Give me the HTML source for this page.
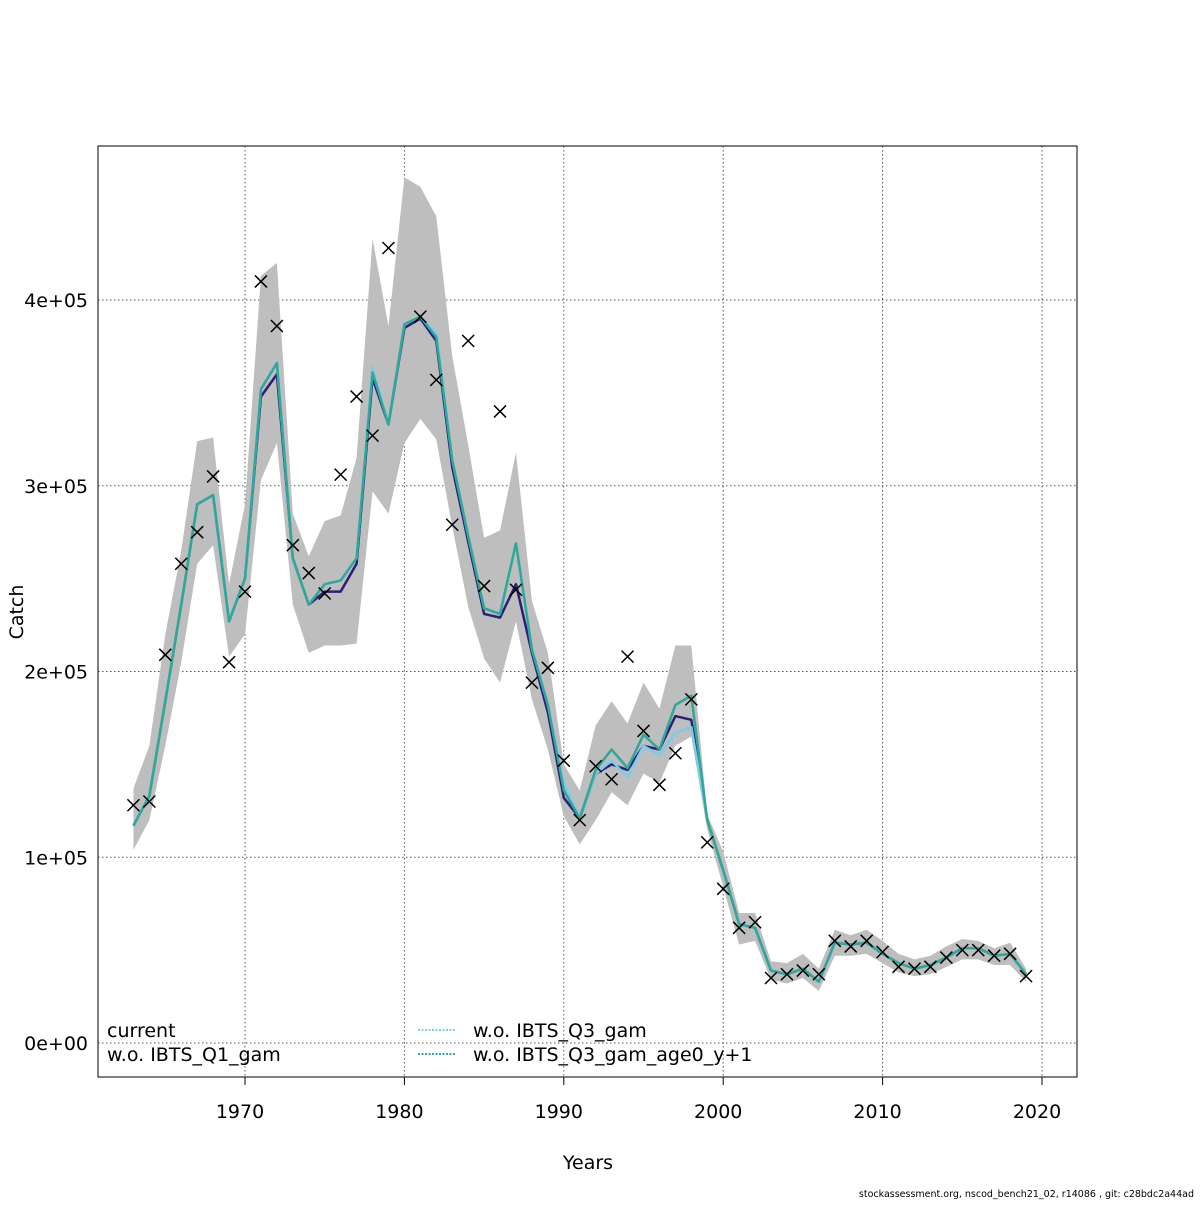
<!DOCTYPE html>
<html><head><meta charset="utf-8"><style>
body{margin:0;background:#fff}
svg text{font-family:"DejaVu Sans","Liberation Sans",sans-serif}
</style></head><body>
<svg id="chart" width="1200" height="1200" xmlns="http://www.w3.org/2000/svg"></svg>
<script>
const years=[];for(let y=1963;y<=2019;y++)years.push(y);
const current=[117,133,184,236,290,295,227,250,352,366,261,236,247,249,261,361,333,387,391,380,314,273,234,231,269,212,182,136,121,147,158,148,166,158,182,187,120,93,64,62,39,37,40,33,54,53,54,48,43,40,42,46,51,51,47,48,37];
const woQ1=[117,133,184,236,290,295,227,250,348,360,261,236,243,243,258,358,333,385,390,378,310,270,231,229,247,210,178,132,121,145,150,147,160,158,176,174,120,93,64,62,39,37,40,33,54,53,54,48,43,40,42,46,51,51,47,48,37];
const woQ3=[117,133,184,236,290,295,227,250,352,366,261,236,247,249,261,364,333,387,391,382,314,273,234,231,269,212,182,140,121,145,152,143,160,155,167,170,120,93,64,62,39,37,40,33,54,53,54,48,43,40,42,46,51,51,47,48,37];
const woQ3age0=[117,133,184,236,290,295,227,250,352,366,261,236,247,249,261,361,333,387,391,380,314,273,234,231,269,212,182,136,121,147,158,148,166,158,182,187,120,93,64,62,39,37,40,33,54,53,54,48,43,40,42,46,51,51,47,48,37];
const upper=[137,160,220,265,324,326,247,290,413,420,285,262,281,284,315,433,386,466,461,445,370,322,272,276,318,238,210,150,136,171,184,172,194,180,214,214,123,103,70,70,44,43,48,40,61,58,61,55,48,45,47,52,56,55,51,54,40];
const lower=[104,120,160,205,258,268,208,220,303,323,236,210,214,214,215,297,285,323,336,325,278,235,207,194,227,185,158,122,107,120,135,128,145,140,160,165,115,84,53,55,34,32,35,28,47,47,48,43,38,36,37,41,45,45,42,42,33];
const obs=[128,130,209,258,275,305,205,243,410,386,268,253,242,306,348,327,428,null,391,357,279,378,246,340,244,194,202,152,120,149,142,208,168,139,156,185,108,83,62,65,35,37,39,37,55,52,55,49,41,40,41,46,50,50,47,48,36];
const xTicks=[1970,1980,1990,2000,2010,2020];
const yTicks=[0,100,200,300,400];
const yTickLabels=["0e+00","1e+05","2e+05","3e+05","4e+05"];

const NS="http://www.w3.org/2000/svg",svg=document.getElementById('chart');
const X=y=>245+(y-1970)*15.94;
const Y=v=>1043-v*1.8575;
function mk(t,a,p){const e=document.createElementNS(NS,t);for(const k in a)e.setAttribute(k,a[k]);(p||svg).appendChild(e);return e;}
xTicks.forEach(t=>{const g=mk('line',{x1:X(t),x2:X(t),y1:146,y2:1077,stroke:'#555','stroke-dasharray':'1.5,2.5','stroke-width':1});


const tl=mk('text',{x:X(t)-5,y:1118,'font-size':19,'text-anchor':'middle'});tl.textContent=t;


mk('line',{x1:X(t),x2:X(t),y1:1077,y2:1085,stroke:'#000'});});
yTicks.forEach((t,i)=>{const g=mk('line',{x1:98,x2:1077,y1:Y(t),y2:Y(t),stroke:'#555','stroke-dasharray':'1.5,2.5','stroke-width':1});


const tl=mk('text',{x:88,y:Y(t)+7,'font-size':19,'text-anchor':'end'});tl.textContent=yTickLabels[i];

});
let d='';years.forEach((y,i)=>d+=(i?'L':'M')+X(y)+','+Y(upper[i]));
for(let i=years.length-1;i>=0;i--)d+='L'+X(years[i])+','+Y(lower[i]);
const band=mk('path',{d:d+'Z',fill:'#bebebe',stroke:'none'});


function line(arr,col,w,name){let p='';arr.forEach((v,i)=>p+=(i?'L':'M')+X(years[i])+','+Y(v));
const e=mk('path',{d:p,fill:'none',stroke:col,'stroke-width':w,'stroke-linejoin':'round'});

}
line(current,'#000',2,'line-current');
line(woQ1,'#2c1f7a',2.5,'line-wo-ibts-q1');
line(woQ3,'#7ccbea',2.5,'line-wo-ibts-q3');
line(woQ3age0,'#2fa89a',2.5,'line-wo-ibts-q3-age0');
obs.forEach((v,i)=>{if(v==null)return;const x=X(years[i]),y=Y(v);
const g=mk('path',{d:`M${x-6},${y-6}L${x+6},${y+6}M${x-6},${y+6}L${x+6},${y-6}`,stroke:'#000','stroke-width':1.5});

});
const box=mk('rect',{x:98,y:146,width:979,height:931,fill:'none',stroke:'#000'});


function txt(s,x,y,sz,name,anchor,rot){const e=mk('text',{x:x,y:y,'font-size':sz,'text-anchor':anchor||'start'});
if(rot)e.setAttribute('transform',`rotate(-90 ${x} ${y})`);e.textContent=s;

}
txt('Years',588,1169,19,'x-axis-title','middle');
txt('Catch',23,612,19,'y-axis-title','middle',true);
txt('current',107,1037,19,'legend-current');
txt('w.o. IBTS_Q1_gam',107,1061,19,'legend-wo-q1');
txt('w.o. IBTS_Q3_gam',473,1037,19,'legend-wo-q3');
txt('w.o. IBTS_Q3_gam_age0_y+1',473,1061,19,'legend-wo-q3-age0');
mk('line',{x1:418,x2:456,y1:1030,y2:1030,stroke:'#7ccbea','stroke-width':2,'stroke-dasharray':'2,1.5'});
mk('line',{x1:418,x2:456,y1:1054,y2:1054,stroke:'#2fa89a','stroke-width':2,'stroke-dasharray':'2,1.5'});
txt('stockassessment.org, nscod_bench21_02, r14086 , git: c28bdc2a44ad',1194,1197,9.5,'footer-note','end');
</script>
</body></html>
